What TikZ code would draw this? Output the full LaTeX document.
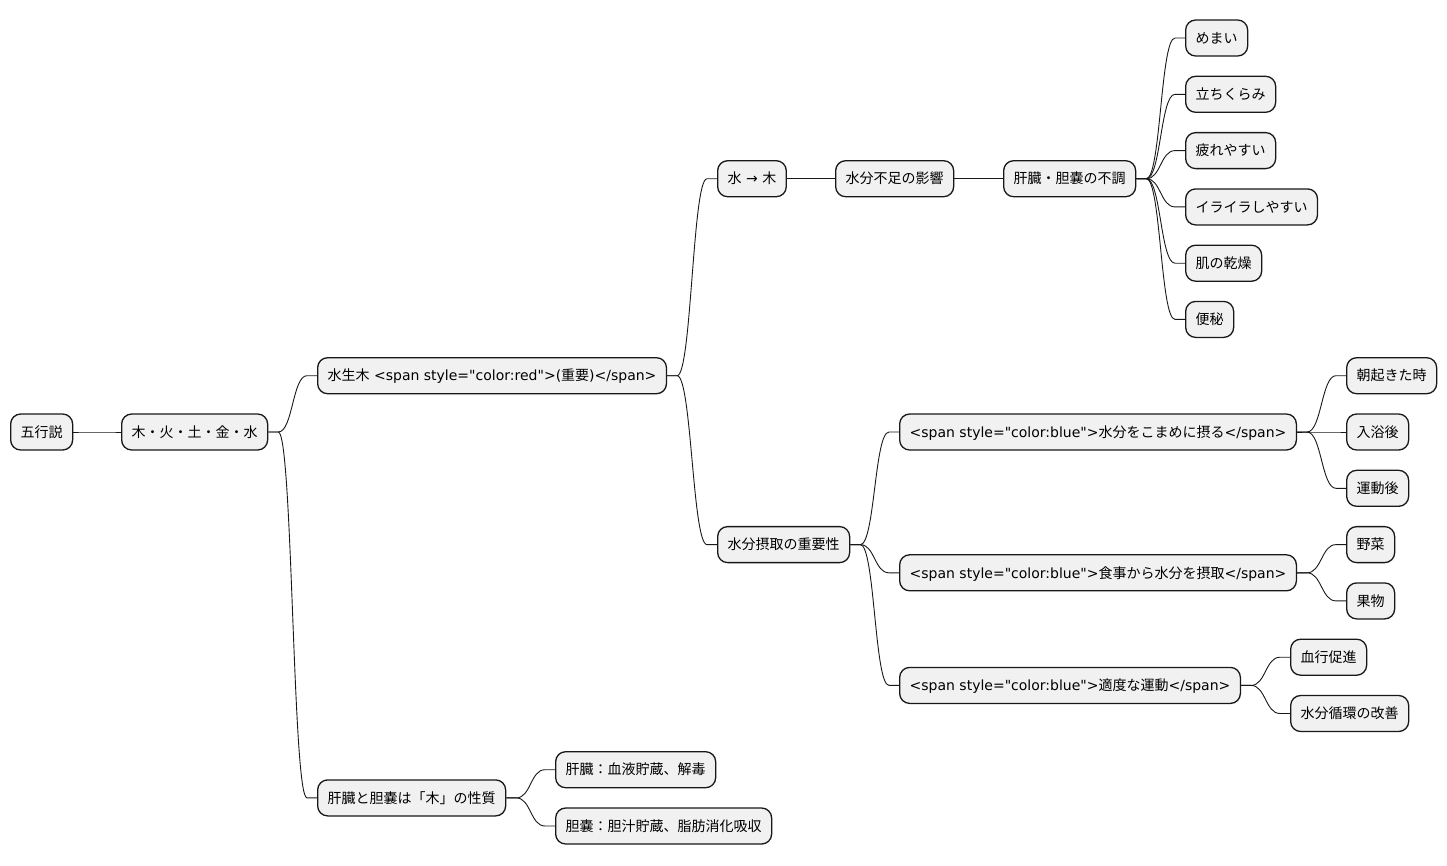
\documentclass[tikz,border=0pt]{standalone}
\usepackage{fontspec}
\setmainfont{DejaVu Sans}[Ligatures=TeXOff]
\newfontfamily\jp{Noto Sans CJK JP}
\usetikzlibrary{calc}
\definecolor{boxfill}{HTML}{F1F1F1}
\definecolor{boxline}{HTML}{181818}
% link from parent to child: short stub, s-curve, short stub
\newcommand{\mmlink}[2]{%
  \draw[link] (#1.east) -- ++(10pt,0) .. controls +(14.5pt,0) and +(-14.5pt,0) .. ([xshift=-10pt]#2.west) -- (#2.west);}
\begin{document}
\begin{tikzpicture}[x=1pt, y=-1pt,
  mm/.style={draw=boxline,fill=boxfill,line width=1.3pt,rounded corners=10pt,anchor=west,
    minimum height=36pt,inner xsep=10pt,inner ysep=0pt,text height=13.5pt,text depth=3pt,
    font=\fontsize{14}{16}\selectfont},
  link/.style={draw=boxline,line width=0.9pt}]
\useasboundingbox (0,0) rectangle (1447,865);
% root and first levels
\node[mm] (root) at (10,432) {{\jp 五行説}};
\node[mm] (elem) at (121,432) {{\jp 木・火・土・金・水}};
\node[mm] (suisho) at (317,375.7) {{\jp 水生木} <span style="color:red">({\jp 重要})</span>};
\node[mm] (kanzo) at (317,797.9) {{\jp 肝臓と胆嚢は「木」の性質}};
% water -> wood branch
\node[mm] (mizuki) at (717,178.7) {{\jp 水} → {\jp 木}};
\node[mm] (fusoku) at (835,178.7) {{\jp 水分不足の影響}};
\node[mm] (fucho) at (1003,178.7) {{\jp 肝臓・胆嚢の不調}};
\node[mm] (s1) at (1185,38) {{\jp めまい}};
\node[mm] (s2) at (1185,94.3) {{\jp 立ちくらみ}};
\node[mm] (s3) at (1185,150.6) {{\jp 疲れやすい}};
\node[mm] (s4) at (1185,206.9) {{\jp イライラしやすい}};
\node[mm] (s5) at (1185,263.2) {{\jp 肌の乾燥}};
\node[mm] (s6) at (1185,319.4) {{\jp 便秘}};
% water intake branch
\node[mm] (sesshu) at (717,544.6) {{\jp 水分摂取の重要性}};
\node[mm] (komame) at (899,432) {<span style="color:blue">{\jp 水分をこまめに摂る}</span>};
\node[mm] (k1) at (1346,375.7) {{\jp 朝起きた時}};
\node[mm] (k2) at (1346,432) {{\jp 入浴後}};
\node[mm] (k3) at (1346,488.3) {{\jp 運動後}};
\node[mm] (shokuji) at (899,572.8) {<span style="color:blue">{\jp 食事から水分を摂取}</span>};
\node[mm] (f1) at (1346,544.6) {{\jp 野菜}};
\node[mm] (f2) at (1346,600.9) {{\jp 果物}};
\node[mm] (undo) at (899,685.4) {<span style="color:blue">{\jp 適度な運動}</span>};
\node[mm] (u1) at (1290,657.2) {{\jp 血行促進}};
\node[mm] (u2) at (1290,713.5) {{\jp 水分循環の改善}};
% liver and gallbladder
\node[mm] (kan) at (555,769.7) {{\jp 肝臓：血液貯蔵、解毒}};
\node[mm] (tan) at (555,826) {{\jp 胆嚢：胆汁貯蔵、脂肪消化吸収}};
% links
\mmlink{root}{elem}
\mmlink{elem}{suisho}
\mmlink{elem}{kanzo}
\mmlink{suisho}{mizuki}
\mmlink{suisho}{sesshu}
\mmlink{mizuki}{fusoku}
\mmlink{fusoku}{fucho}
\foreach \s in {s1,s2,s3,s4,s5,s6} {\mmlink{fucho}{\s}}
\mmlink{sesshu}{komame}
\mmlink{sesshu}{shokuji}
\mmlink{sesshu}{undo}
\foreach \s in {k1,k2,k3} {\mmlink{komame}{\s}}
\foreach \s in {f1,f2} {\mmlink{shokuji}{\s}}
\foreach \s in {u1,u2} {\mmlink{undo}{\s}}
\mmlink{kanzo}{kan}
\mmlink{kanzo}{tan}
\end{tikzpicture}
\end{document}
